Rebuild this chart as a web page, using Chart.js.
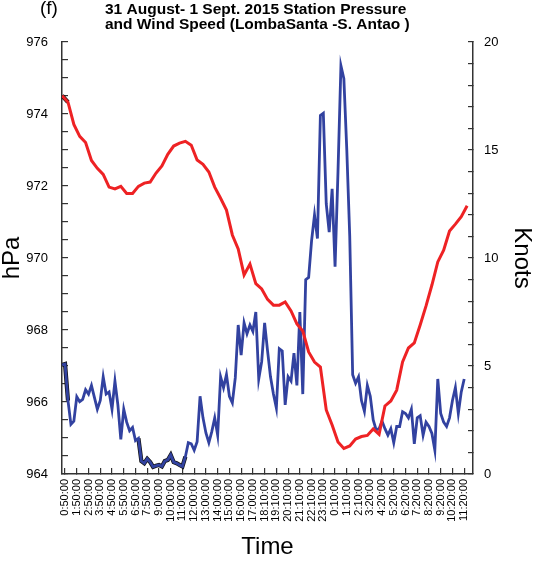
<!DOCTYPE html>
<html lang="en">
<head>
<meta charset="UTF-8">
<title>Station Pressure and Wind Speed - LombaSanta</title>
<style>
  html, body { margin: 0; padding: 0; background: #fff; }
  canvas { display: block; }
</style>
</head>
<body>
<canvas id="grafica" width="560" height="585"></canvas>
<script src="https://cdn.jsdelivr.net/npm/chart.js@4.4.1/dist/chart.umd.min.js"></script>
<script>
// tick labels of the time axis (one per hour, as in the figure)
const timeLabels = [
  '0:50:00', '1:50:00', '2:50:00', '3:50:00', '4:50:00', '5:50:00', '6:50:00', '7:50:00',
  '9:00:00', '10:00:00', '11:00:00', '12:00:00', '13:00:00', '14:00:00', '15:00:00', '16:00:00',
  '17:00:00', '18:10:00', '19:10:00', '20:10:00', '21:10:00', '22:10:00', '23:10:00', '0:10:00',
  '1:10:00', '2:10:00', '3:20:00', '4:20:00', '5:20:00', '6:20:00', '7:20:00', '8:20:00',
  '9:20:00', '10:20:00', '11:20:00'
];

// station pressure (hPa), every half hour-step starting a quarter step before the first label
const pressure = [
  974.51, 974.33, 973.71, 973.38, 973.21, 972.71, 972.49, 972.32, 971.97, 971.92,
  971.99, 971.79, 971.79, 971.99, 972.08, 972.11, 972.36, 972.56, 972.88, 973.11,
  973.19, 973.24, 973.13, 972.72, 972.60, 972.39, 971.97, 971.66, 971.33, 970.64,
  970.25, 969.53, 969.83, 969.29, 969.14, 968.85, 968.69, 968.69, 968.78, 968.53,
  968.17, 967.97, 967.39, 967.11, 966.97, 965.78, 965.36, 964.89, 964.71, 964.78,
  964.97, 965.04, 965.07, 965.25, 965.10, 965.89, 966.03, 966.33, 967.11, 967.50,
  967.64, 968.14, 968.67, 969.25, 969.89, 970.22, 970.75, 970.94, 971.15, 971.45
];

// wind speed (knots), every quarter step
const windSpeed = [
  5.05, 5.09, 3.4, 2.3, 2.45, 3.58, 3.35, 3.45, 3.9, 3.7,
  4.1, 3.55, 3.0, 3.4, 4.5, 3.7, 3.8, 3.0, 4.3, 3.2,
  1.6, 3.0, 2.4, 2.0, 2.15, 1.55, 1.65, 0.6, 0.5, 0.7,
  0.55, 0.33, 0.38, 0.42, 0.35, 0.6, 0.65, 0.88, 0.55, 0.5,
  0.42, 0.35, 0.8, 1.45, 1.4, 1.1, 1.5, 3.6, 2.6, 1.9,
  1.45, 1.96, 2.6, 1.8, 4.5, 4.0, 4.6, 3.6, 3.3, 4.45,
  6.9, 5.5, 7.0, 6.5, 6.9, 6.6, 7.5, 4.4, 5.2, 7.0,
  5.7, 4.5, 3.7, 3.05, 5.8, 5.7, 3.2, 4.5, 4.3, 5.6,
  4.1, 7.5, 3.7, 9.0, 9.1, 10.8, 12.0, 10.9, 16.6, 16.7,
  12.5, 11.2, 13.2, 9.6, 14.0, 18.9, 18.3, 15.0, 11.0, 4.6,
  4.2, 4.5, 3.4, 2.9, 4.1, 3.6, 2.5, 2.04, 2.1, 2.45,
  2.1, 1.8, 2.1, 1.45, 2.2, 2.2, 2.88, 2.8, 2.6, 3.0,
  1.4, 2.6, 2.7, 1.8, 2.4, 2.2, 1.88, 1.1, 4.4, 2.8,
  2.4, 2.2, 2.6, 3.4, 4.0, 2.8, 3.8, 4.4
];

// stretches drawn with a dark outline in the original (index ranges)
const windDarkRanges = [[0, 2], [26, 42]];
const pressureDarkRanges = [[0, 1]];

const titleLines = [
  '31 August- 1 Sept. 2015 Station Pressure',
  'and Wind Speed (LombaSanta -S. Antao )'
];

const startX = -0.25;
const pressureStep = 0.5;
const windStep = 0.25;

const fuente = '"Liberation Sans", Arial, Helvetica, sans-serif';
const rojo = 'rgb(238, 34, 36)';
const azul = 'rgb(50, 66, 160)';

// convert series into {x,y} points on the time axis
function puntos(valores, paso) {
  return valores.map((v, i) => ({ x: startX + i * paso, y: v }));
}
function tramos(valores, paso, rangos) {
  return valores.map((v, i) => {
    const dentro = rangos.some(r => i >= r[0] && i <= r[1]);
    return { x: startX + i * paso, y: dentro ? v : null };
  });
}

// inward tick marks (negative tick length)
function rejilla(largo) {
  return { drawOnChartArea: false, drawTicks: true, tickLength: -largo, color: '#333', lineWidth: 1.2 };
}
const borde = { display: true, color: '#333', width: 1.5 };

// figure label and two-line title
const tituloPlugin = {
  id: 'tituloFigura',
  afterDraw(chart) {
    const ctx = chart.ctx;
    ctx.save();
    ctx.fillStyle = '#000';
    ctx.textAlign = 'left';
    ctx.textBaseline = 'alphabetic';
    ctx.font = '19px ' + fuente;
    ctx.fillText('(f)', 40, 14);
    ctx.font = 'bold 15.5px ' + fuente;
    ctx.fillText(titleLines[0], 105, 14);
    ctx.fillText(titleLines[1], 105, 29);
    ctx.restore();
  }
};

const ctx = document.getElementById('grafica').getContext('2d');

const grafica = new Chart(ctx, {
  type: 'line',
  data: {
    datasets: [
      {
        label: 'Station Pressure',
        data: puntos(pressure, pressureStep),
        yAxisID: 'y',
        borderColor: rojo,
        borderWidth: 3,
        pointRadius: 0,
        tension: 0,
        order: 0
      },
      {
        label: 'pressure outline',
        data: tramos(pressure, pressureStep, pressureDarkRanges),
        yAxisID: 'y',
        borderColor: '#111',
        borderWidth: 4.2,
        pointRadius: 0,
        spanGaps: false,
        order: 1
      },
      {
        label: 'Wind Speed',
        data: puntos(windSpeed, windStep),
        yAxisID: 'y1',
        borderColor: azul,
        borderWidth: 2.8,
        pointRadius: 0,
        tension: 0,
        order: 2
      },
      {
        label: 'wind outline',
        data: tramos(windSpeed, windStep, windDarkRanges),
        yAxisID: 'y1',
        borderColor: '#111',
        borderWidth: 4.2,
        pointRadius: 0,
        spanGaps: false,
        order: 3
      }
    ]
  },
  options: {
    responsive: false,
    animation: false,
    layout: { padding: { top: 42, left: 0, right: 0, bottom: 0 } },
    plugins: {
      legend: { display: false },
      tooltip: { enabled: false },
      title: { display: false }
    },
    scales: {
      x: {
        type: 'linear',
        min: -0.26,
        max: 34.75,
        afterFit: s => { s.height = 111; },
        border: borde,
        grid: rejilla(6),
        ticks: {
          stepSize: 1,
          includeBounds: false,
          autoSkip: false,
          minRotation: 90,
          maxRotation: 90,
          padding: 11,
          color: '#000',
          font: { family: fuente, size: 11 },
          callback: v => timeLabels[v] ?? ''
        },
        title: {
          display: true,
          text: 'Time',
          color: '#000',
          font: { family: fuente, size: 24, lineHeight: 1 },
          padding: 26
        }
      },
      y: {
        type: 'linear',
        position: 'left',
        min: 964,
        max: 976,
        afterFit: s => { s.width = 62; },
        border: borde,
        grid: rejilla(6),
        ticks: {
          stepSize: 0.5,
          autoSkip: false,
          padding: 20,
          color: '#000',
          font: { family: fuente, size: 13 },
          callback: v => (v % 2 === 0 ? v : '')
        },
        title: {
          display: true,
          text: 'hPa',
          color: '#000',
          font: { family: fuente, size: 24, lineHeight: 1 },
          padding: 0
        }
      },
      y1: {
        type: 'linear',
        position: 'right',
        min: 0,
        max: 20,
        afterFit: s => { s.width = 87; },
        border: borde,
        grid: rejilla(5),
        ticks: {
          stepSize: 1,
          autoSkip: false,
          padding: 16,
          color: '#000',
          font: { family: fuente, size: 13 },
          callback: v => (v % 5 === 0 ? v : '')
        },
        title: {
          display: true,
          text: 'Knots',
          color: '#000',
          font: { family: fuente, size: 24, lineHeight: 1 },
          padding: 26
        }
      }
    }
  },
  plugins: [tituloPlugin]
});
</script>
</body>
</html>
